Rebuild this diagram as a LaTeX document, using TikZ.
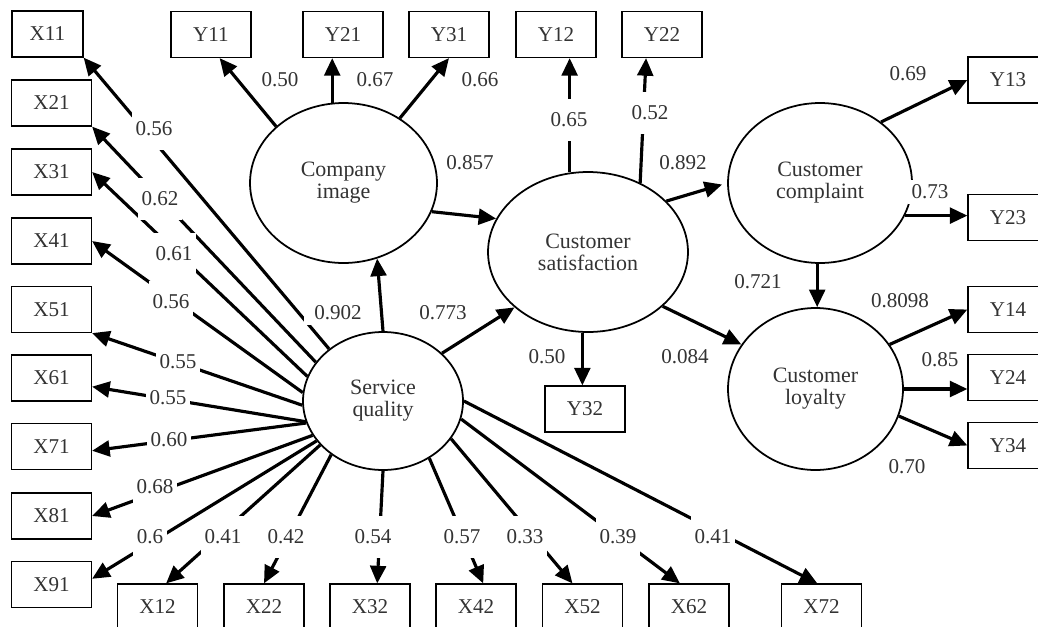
\documentclass[tikz,border=0pt]{standalone}
\usepackage{fontspec}
\setmainfont{Liberation Serif}
\usetikzlibrary{arrows.meta,shapes.geometric}

\tikzset{
    box/.style={draw, line width=0.7pt, minimum width=1.6cm, minimum height=0.92cm,
        inner sep=0pt, text=black!80, font=\fontsize{12}{12.5}\selectfont},
    latent/.style={ellipse, draw, line width=1pt, inner sep=0pt, align=center,
        text=black!80, font=\fontsize{12.5}{12.5}\selectfont},
    link/.style={line width=1.8pt, -{Triangle[length=10pt,width=9pt]}},
    coef/.style={fill=white, inner xsep=2pt, inner ysep=3pt, text=black!80,
        font=\fontsize{12}{12.5}\selectfont},
    coefgap/.style={coef, inner ysep=8pt}
}

\begin{document}
\begin{tikzpicture}[x=0.02cm, y=-0.02cm]
    \useasboundingbox (0,0) rectangle (1038,626);
    % latent variables
    \node[latent, minimum width=3.74cm, minimum height=3.2cm] (ci) at (343.5,183) {Company\\image};
    \node[latent, minimum width=4cm, minimum height=3.2cm] (cs) at (588,252) {Customer\\satisfaction};
    \node[latent, minimum width=3.68cm, minimum height=3.2cm] (cc) at (820,183) {Customer\\complaint};
    \node[latent, minimum width=3.5cm, minimum height=3.24cm] (cl) at (815.5,389) {Customer\\loyalty};
    \node[latent, minimum width=3.2cm, minimum height=2.76cm] (sq) at (383,401) {Service\\quality};

    % observed variables
    \node[box, minimum width=1.42cm] (x11) at (47.5,34) {X11};
    \node[box] (x21) at (51.5,103) {X21};
    \node[box] (x31) at (51.5,172) {X31};
    \node[box] (x41) at (51.5,241) {X41};
    \node[box] (x51) at (51.5,309.5) {X51};
    \node[box] (x61) at (51.5,378) {X61};
    \node[box] (x71) at (51.5,446.5) {X71};
    \node[box] (x81) at (51.5,516) {X81};
    \node[box] (x91) at (51.5,584.5) {X91};
    \node[box] (x12) at (157.5,607) {X12};
    \node[box] (x22) at (264,607) {X22};
    \node[box] (x32) at (370,607) {X32};
    \node[box] (x42) at (476,607) {X42};
    \node[box] (x52) at (582.5,607) {X52};
    \node[box] (x62) at (689,607) {X62};
    \node[box] (x72) at (821.5,607) {X72};
    \node[box] (y11) at (211,34.5) {Y11};
    \node[box] (y21) at (343,34.5) {Y21};
    \node[box] (y31) at (449,34.5) {Y31};
    \node[box] (y12) at (556,34.5) {Y12};
    \node[box] (y22) at (662,34.5) {Y22};
    \node[box] (y32) at (585,409) {Y32};
    \node[box] (y13) at (1008,80) {Y13};
    \node[box] (y23) at (1008,217.5) {Y23};
    \node[box] (y14) at (1008,309.5) {Y14};
    \node[box] (y24) at (1008,377.5) {Y24};
    \node[box] (y34) at (1008,445.5) {Y34};

    % service quality loadings
    \draw[link] (sq.136) -- (x11.south east);
    \draw[link] (sq.150) -- (x21.south east);
    \draw[link] (sq.162) -- (x31.east);
    \draw[link] (sq.174) -- (x41.east);
    \draw[link] (sq.183) -- (x51.south east);
    \draw[link] (sq.195) -- (x61.-12);
    \draw[link] (sq.196) -- (x71.-6);
    \draw[link] (sq.206) -- (x81.east);
    \draw[link] (sq.211) -- (x91.8);
    \draw[link] (sq.215) -- (x12.70);
    \draw[link] (sq.226) -- (x22.north);
    \draw[link] (sq.south) -- (x32.73);
    \draw[link] (sq.-51) -- (x42.73);
    \draw[link] (sq.-29) -- (x52.113);
    \draw[link] (sq.-13) -- (x62.111);
    \draw[link] (sq.east) -- (x72.100);

    % other loadings
    \draw[link] (ci.140) -- (y11.-70);
    \draw[link] (ci.98) -- (ci.98 |- y21.south);
    \draw[link] (ci.49) -- (y31.south);
    \draw[link] (cs.103) -- (cs.103 |- y12.south);
    \draw[link] (cs.53) -- (y22.-124);
    \draw[link] (cs.-94) -- (cs.-94 |- y32.north);
    \draw[link] (cc.45) -- (y13.west);
    \draw[link] (cc.-21) -- (cc.-21 -| y23.west);
    \draw[link] (cl.31) -- (y14.west);
    \draw[link] (cl.east) -- (cl.east -| y24.west);
    \draw[link] (cl.-18) -- (y34.west);

    % structural paths
    \draw[link] (sq.north) -- (ci.-66);
    \draw[link] (sq.39) -- (cs.-143);
    \draw[link] (ci.-18) -- (cs.160);
    \draw[link, shorten >=3pt] (cs.33) -- (cc.west);
    \draw[link] (cs.-36) -- (cl.149);
    \draw[link] (cc.-92) -- (cc.-92 |- cl.north);

    % coefficients
    \node[coefgap] (lx11) at (154,129) {0.56};
    \node[coefgap] (lx21) at (160,199) {0.62};
    \node[coefgap] (lx31) at (174,254) {0.61};
    \node[coefgap] (lx41) at (171,302) {0.56};
    \node[coefgap] (lx51) at (178,362) {0.55};
    \node[coefgap] (lx61) at (168,398) {0.55};
    \node[coefgap] (lx71) at (169,440) {0.60};
    \node[coefgap] (lx81) at (155,487) {0.68};
    \node[coefgap] (lx91) at (150,537) {0.6};
    \node[coefgap] (lx12) at (223,537) {0.41};
    \node[coefgap] (lx22) at (286,537) {0.42};
    \node[coefgap] (lx32) at (373,537) {0.54};
    \node[coefgap] (lx42) at (462,537) {0.57};
    \node[coefgap] (lx52) at (525,537) {0.33};
    \node[coefgap] (lx62) at (618,537) {0.39};
    \node[coefgap] (lx72) at (713,537) {0.41};
    \node[coef, inner xsep=6pt] (lsqci) at (338,313) {0.902};
    \node[coef] (lsqcs) at (443,313) {0.773};
    \node[coef] (ly11) at (280,80) {0.50};
    \node[coef] (ly21) at (375,80) {0.67};
    \node[coef] (ly31) at (480,80) {0.66};
    \node[coef] (lcics) at (470,163) {0.857};
    \node[coefgap] (ly12) at (569,120) {0.65};
    \node[coefgap] (ly22) at (650,113) {0.52};
    \node[coef] (lcscc) at (683,163) {0.892};
    \node[coef] (ly32) at (547,357) {0.50};
    \node[coef] (lcscl) at (685,357) {0.084};
    \node[coef] (ly13) at (908,74) {0.69};
    \node[coef] (ly23) at (930,192) {0.73};
    \node[coef] (lcccl) at (758,282) {0.721};
    \node[coef] (ly14) at (900,301) {0.8098};
    \node[coef] (ly24) at (940,360) {0.85};
    \node[coef] (ly34) at (907,467) {0.70};
\end{tikzpicture}
\end{document}
